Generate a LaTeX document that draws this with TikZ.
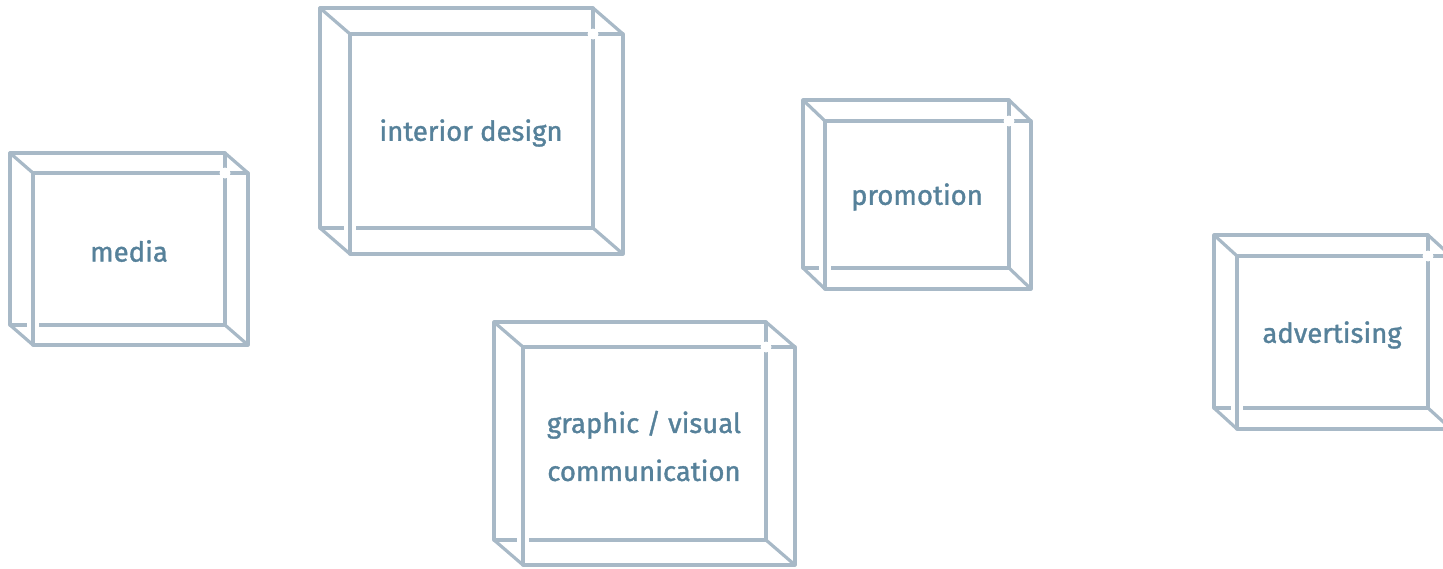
\documentclass[tikz,border=0pt]{standalone}
\usepackage{fontspec}
\newfontfamily\labelfont[FakeBold=1.3]{Fira Sans}
\definecolor{boxline}{HTML}{A8B9C7}
\definecolor{boxtext}{HTML}{56819A}
\tikzset{
  cubeline/.style={draw=boxline, line width=3.2pt, line join=round},
  cubelabel/.style={text=boxtext, font=\labelfont\fontsize{27.5}{48}\selectfont, align=center},
}
% #1,#2 back top-left; #3,#4 back bottom-right; #5,#6 offset
\newcommand{\glasscube}[6]{%
  \draw[cubeline] (#1,#2) rectangle (#3,#4);
  \draw[cubeline] (#1,#2) -- ++(#5,#6);
  \draw[cubeline] (#3,#2) -- ++(#5,#6);
  \draw[cubeline] (#1,#4) -- ++(#5,#6);
  \draw[cubeline] (#3,#4) -- ++(#5,#6);
  \fill[white] ({#1+#5-6},{#4-3}) rectangle ({#1+#5+6},{#4+3});
  \draw[cubeline] ({#1+#5},{#2+#6}) rectangle ({#3+#5},{#4+#6});
  \fill[white] ({#3},{#2+#6}) circle (5.5);
}
\begin{document}
\begin{tikzpicture}[x=1pt,y=-1pt]
\useasboundingbox (0,0) rectangle (1443,568);
\glasscube{10}{153}{225}{325}{23}{20}
\glasscube{320}{8}{593}{228}{30}{26}
\glasscube{494}{322}{766}{540}{29}{25}
\glasscube{803}{100}{1009}{268}{22}{21}
\glasscube{1214}{235}{1428}{408}{23}{21}
\node[cubelabel] (media) at (129,251) {media};
\node[cubelabel] (interior) at (471,133) {interior design};
\node[cubelabel] (graphic) at (644,446) {graphic / visual\\communication};
\node[cubelabel] (promotion) at (917,197) {promotion};
\node[cubelabel] (advertising) at (1332,335) {advertising};
\end{tikzpicture}
\end{document}
